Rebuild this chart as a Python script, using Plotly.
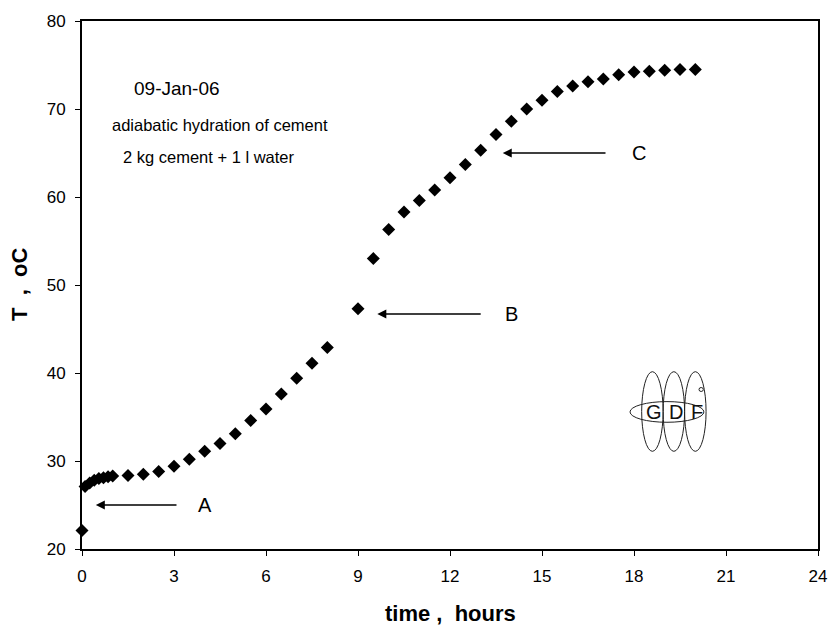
import plotly.graph_objects as go

# --- data ---
time_h = [0.0, 0.1, 0.25, 0.4, 0.55, 0.7, 0.85, 1.0, 1.5, 2.0, 2.5, 3.0, 3.5, 4.0,
          4.5, 5.0, 5.5, 6.0, 6.5, 7.0, 7.5, 8.0, 9.0, 9.5, 10.0, 10.5, 11.0,
          11.5, 12.0, 12.5, 13.0, 13.5, 14.0, 14.5, 15.0, 15.5, 16.0, 16.5,
          17.0, 17.5, 18.0, 18.5, 19.0, 19.5, 20.0]
temp_c = [22.1, 27.1, 27.5, 27.8, 28.0, 28.1, 28.2, 28.3, 28.35, 28.5, 28.8, 29.4,
          30.2, 31.1, 32.0, 33.1, 34.6, 35.9, 37.6, 39.4, 41.1, 42.9, 47.3, 53.0,
          56.3, 58.3, 59.6, 60.8, 62.2, 63.7, 65.3, 67.1, 68.6, 70.0, 71.0, 72.0,
          72.6, 73.1, 73.4, 73.9, 74.2, 74.3, 74.4, 74.5, 74.5]

x_ticks = [0, 3, 6, 9, 12, 15, 18, 21, 24]
y_ticks = [20, 30, 40, 50, 60, 70, 80]

x_title = "time ,  hours"
y_title = "T  ,  oC"

# phase markers: label, arrow tip (x, y), arrow tail x, label x
marker_labels = ["A", "B", "C"]
marker_tip_x = [0.45, 9.63, 13.72]
marker_y = [25.0, 46.7, 65.0]
marker_tail_x = [3.13, 13.05, 17.12]
marker_label_x = [4.01, 14.01, 18.16]

notes = ["09-Jan-06", "adiabatic hydration of cement", "2 kg cement + 1 l water"]
notes_x = [3.1, 4.5, 4.15]
notes_y = [72.3, 68.2, 64.6]
notes_size = [19, 16.5, 16.5]

FONT = "Arial, Liberation Sans, sans-serif"

fig = go.Figure()
fig.add_trace(go.Scatter(
    x=time_h, y=temp_c, mode="markers",
    marker=dict(symbol="diamond", size=10, color="black"),
    showlegend=False, cliponaxis=False,
))

annotations = []
for lab, tx, y, ax, lx in zip(marker_labels, marker_tip_x, marker_y, marker_tail_x, marker_label_x):
    annotations.append(dict(x=tx, y=y, ax=ax, ay=y, xref="x", yref="y",
                            axref="x", ayref="y", text="", showarrow=True,
                            arrowhead=2, arrowsize=1.2, arrowwidth=1.5,
                            arrowcolor="black", standoff=0, startstandoff=0))
    annotations.append(dict(x=lx, y=y, xref="x", yref="y", text=lab,
                            showarrow=False, font=dict(family=FONT, size=20, color="black")))

for t, x, y, s in zip(notes, notes_x, notes_y, notes_size):
    annotations.append(dict(x=x, y=y, xref="x", yref="y", text=t, showarrow=False,
                            font=dict(family=FONT, size=s, color="black")))

# axis titles
annotations.append(dict(x=0.5, y=0, xref="paper", yref="paper", text="<b>" + x_title + "</b>",
                        showarrow=False, yanchor="middle", yshift=-64,
                        font=dict(family=FONT, size=22, color="black")))
annotations.append(dict(x=0, y=0.5, xref="paper", yref="paper", text="<b>" + y_title + "</b>",
                        showarrow=False, xanchor="center", xshift=-63, textangle=-90,
                        font=dict(family=FONT, size=22, color="black")))

# GDF logo (decoration)
logo_letters = ["G", "D", "F"]
logo_x = [18.6, 19.3, 20.0]
logo_y = 35.55
shapes = []
shapes.append(dict(type="circle", xref="x", yref="y", x0=17.87, x1=20.28, y0=34.4, y1=36.75,
                   line=dict(color="#222", width=1)))
for lx in logo_x:
    shapes.append(dict(type="circle", xref="x", yref="y", x0=lx - 0.35, x1=lx + 0.35,
                       y0=31.1, y1=40.15, line=dict(color="#222", width=1)))
shapes.append(dict(type="circle", xref="x", yref="y", x0=20.12, x1=20.26, y0=37.9, y1=38.35,
                   line=dict(color="#222", width=1)))
for ch, lx in zip(logo_letters, [18.66, 19.38, 20.04]):
    annotations.append(dict(x=lx, y=logo_y, xref="x", yref="y", text=ch, showarrow=False,
                            font=dict(family=FONT, size=20, color="#111")))

fig.update_layout(
    width=832, height=627,
    margin=dict(l=82, r=14, t=21, b=78, autoexpand=False),
    paper_bgcolor="white", plot_bgcolor="white",
    font=dict(family=FONT, size=17, color="black"),
    annotations=annotations, shapes=shapes,
)
fig.update_xaxes(
    range=[0, 24], tickvals=x_ticks, ticktext=[str(v) for v in x_ticks],
    showgrid=False, zeroline=False, showline=True, linecolor="black", linewidth=2,
    mirror=True, ticks="outside", ticklen=5, tickwidth=1, tickcolor="black",
    tickfont=dict(size=17), automargin=False, ticklabelstandoff=6,
)
fig.update_yaxes(
    range=[20, 80], tickvals=y_ticks, ticktext=[str(v) for v in y_ticks],
    showgrid=False, zeroline=False, showline=True, linecolor="black", linewidth=2,
    mirror=True, ticks="outside", ticklen=5, tickwidth=1, tickcolor="black",
    tickfont=dict(size=17), automargin=False, ticklabelstandoff=6,
)

fig.write_html("out.html", config={"displayModeBar": False},
               post_script="document.body.style.margin='0';")
